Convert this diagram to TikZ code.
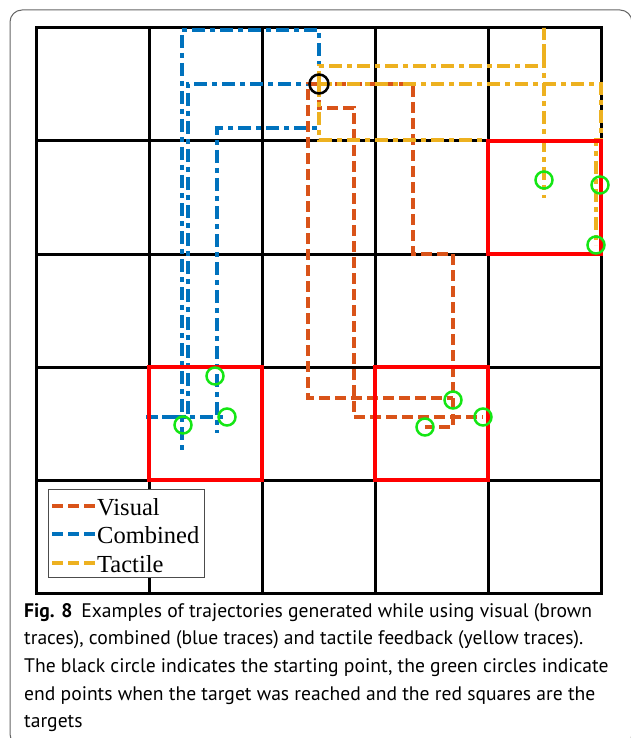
\documentclass[tikz,border=0pt]{standalone}
\usepackage{fontspec}
\setmainfont{Liberation Serif}
\newfontfamily\capfont{PT Sans}
\usepackage{tikz}
\usetikzlibrary{arrows,arrows.meta}

\definecolor{vis}{RGB}{217,83,25}
\definecolor{comb}{RGB}{0,114,189}
\definecolor{tac}{RGB}{237,177,32}
\definecolor{hit}{RGB}{20,230,20}

\begin{document}
\begin{tikzpicture}[x=1pt, y=-1pt, every node/.style={},
    gridline/.style={line width=3pt},
    target/.style={red, line width=4pt},
    visual/.style={vis, line width=4pt, dash pattern=on 11pt off 5pt},
    combined/.style={comb, line width=4pt, dash pattern=on 13pt off 5pt on 5pt off 5pt},
    tactile/.style={tac, line width=4pt, dash pattern=on 13pt off 5pt on 5pt off 5pt},
    endpt/.style={circle, draw=hit, line width=2.5pt, minimum size=17pt, inner sep=0pt},
    capline/.style={anchor=base west, inner sep=0pt, font=\capfont\fontsize{19.6}{27}\selectfont}]

    \useasboundingbox (0,0) rectangle (630,738);
    \draw[black!60, line width=1pt, rounded corners=12pt] (10,10) rectangle (632,746);

    % grid of cells
    \draw[gridline] (36,28) rectangle (601,593);
    \foreach \k in {1,...,4} {
        \draw[gridline] (36+113*\k,28) -- (36+113*\k,593);
        \draw[gridline] (36,28+113*\k) -- (601,28+113*\k);
    }

    \coordinate (s) at (319,84);

    % traces
    \draw[combined] (s) -- (319,30) -- (182,30) -- (182,452);
    \draw[combined] (s) -- (188,84) -- (188,417) -- (146,417) -- (227,417);
    \draw[combined] (s) -- (319,128) -- (217,128) -- (217,433);

    \draw[visual] (s) -- (308,84) -- (308,398) -- (453,398);
    \draw[visual] (s) -- (319,108) -- (354,108) -- (354,417) -- (483,417);
    \draw[visual] (s) -- (413,84) -- (413,254) -- (453,254) -- (453,427) -- (425,427);

    \draw[tactile] (s) -- (319,66) -- (544,66) -- (544,28) -- (544,198);
    \draw[tactile] (s) -- (601,84) -- (601,140) -- (596,140) -- (596,245);
    \draw[tactile] (s) -- (319,140) -- (487,140);

    % targets
    \foreach \c/\r in {4/1,1/3,3/3}
        \draw[target] (36+113*\c,28+113*\r) rectangle ++(113,113);

    \node[circle, draw, line width=2.5pt, minimum size=19pt, inner sep=0pt] (start) at (s) {};
    \foreach \x/\y [count=\n] in {544/180,600/185,596/245,215/376,227/417,183/425,453/400,483/417,425/427}
        \node[endpt] (end\n) at (\x,\y) {};

    % legend
    \draw[black!70, fill=white, line width=1pt] (48,489) rectangle (204,577);
    \node[anchor=base west, inner sep=0pt, font=\fontsize{24.5}{28}\selectfont] (lvis) at (97,515) {Visual};
    \node[anchor=base west, inner sep=0pt, font=\fontsize{24.5}{28}\selectfont] (lcomb) at (97,543) {Combined};
    \node[anchor=base west, inner sep=0pt, font=\fontsize{24.5}{28}\selectfont] (ltac) at (97,572) {Tactile};
    \draw[vis, line width=3.5pt, dash pattern=on 11pt off 5pt] (52,506) -- (lvis.west |- 0,506);
    \draw[comb, line width=3.5pt, dash pattern=on 11pt off 5pt] (52,534) -- (lcomb.west |- 0,534);
    \draw[tac, line width=3.5pt, dash pattern=on 11pt off 5pt] (52,563) -- (ltac.west |- 0,563);

    % caption
    \node[capline] (cap1) at (24,617) {\textbf{Fig. 8}\hspace{0.45em}Examples of trajectories generated while using visual (brown};
    \node[capline] (cap2) at (24,644) {traces), combined (blue traces) and tactile feedback (yellow traces).};
    \node[capline] (cap3) at (24,672) {The black circle indicates the starting point, the green circles indicate};
    \node[capline] (cap4) at (24,700) {end points when the target was reached and the red squares are the};
    \node[capline] (cap5) at (24,727) {targets};

\end{tikzpicture}
\end{document}
